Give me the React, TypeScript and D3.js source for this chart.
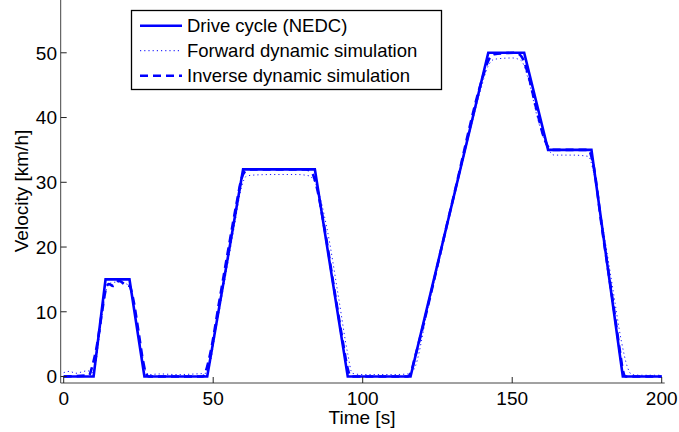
import React from 'react';
import * as d3 from 'd3';

// NEDC urban part (ECE-15), time shifted so the first sample is t = 0
const cycleTime = [0, 10, 14, 22, 27, 48, 60, 84, 95, 116, 142, 154, 162, 176.5, 187, 200];
const cycleSpeed = [0, 0, 15, 15, 0, 0, 32, 32, 0, 0, 50, 50, 35, 35, 0, 0];

// forward dynamic simulation (dotted)
const fwdTime = [0, 2, 4, 6, 8, 9.5, 10.5, 12, 13.5, 14.5, 15.5, 18, 21, 22.5, 24, 26, 27.5, 28.5, 32, 38, 44, 47.5,
  48.5, 51, 54, 57, 59.5, 61, 63, 70, 78, 82, 84.5, 88, 92, 95, 96.5, 100, 110, 115,
  117, 122, 128, 134, 139, 142, 144, 150, 153, 155, 159, 162, 164, 170, 175.5, 177, 180, 183.5, 186.5, 188.5, 190, 193, 200];
const fwdSpeed = [0.6, 0.8, 0.5, 0.7, 0.9, 0.6, 1.5, 6.5, 11.5, 13.8, 14.4, 14.6, 14.3, 13.5, 9.5, 4, 0.8, 0.3, 0.4, 0.3, 0.4, 0.5,
  1.2, 7.5, 15.2, 23, 29.3, 30.9, 31.1, 31.2, 31.2, 31.0, 29.5, 23, 12, 3.5, 0.5, 0.3, 0.3, 0.4,
  1, 11, 22.6, 34.3, 43.5, 48, 49, 49.2, 48.8, 46.5, 39, 35.2, 34.2, 34.2, 34, 32, 24, 14, 5.5, 1.5, 0.3, 0.2, 0.2];

// inverse dynamic simulation (dashed)
const invTime = [0, 8.5, 9.5, 11, 13, 14, 15, 16.5, 18.5, 20.5, 22, 23, 25, 26.5, 27.5, 28.5, 46.5, 47.5, 49, 52, 55, 58, 59.5,
  61, 63, 81, 83, 84.5, 87, 91, 93.5, 95, 96, 115, 116, 117.5, 130, 140, 142, 144, 151, 153, 155, 158, 161, 163,
  175.5, 177, 180, 184, 186, 187, 188, 200];
const invSpeed = [0, 0.2, 1.5, 4.5, 10.5, 13.3, 14.3, 14.0, 14.8, 14.2, 14.0, 12.5, 7, 2.5, 0.5, 0, 0, 0.8, 3.5, 11.5, 19.5, 27.2, 30.6,
  31.8, 32, 32, 31.5, 29.5, 23.5, 12, 5, 1.2, 0, 0, 0.5, 3, 27, 46, 48.8, 49.8, 50, 49.5, 47.2, 41.5, 36.4, 35,
  35, 33, 23, 10.5, 4, 1, 0, 0];

const xTicks = [0, 50, 100, 150, 200];
const yTicks = [0, 10, 20, 30, 40, 50];
const legendLabels = ['Drive cycle (NEDC)', 'Forward dynamic simulation', 'Inverse dynamic simulation'];

const W = 679;
const H = 432;
const FONT = 'Liberation Sans, Arial, Helvetica, sans-serif';
const BLUE = '#0000ff';

const App: React.FC = () => {
  const x = d3.scaleLinear().domain([-1, 201]).range([60.7, 664.7]);
  const y = d3.scaleLinear().domain([-1, 58]).range([383, 1]);

  const straight = d3.line<number>().x((_, i) => x(cycleTime[i])).y(d => y(d));
  const smoothFwd = d3.line<number>().x((_, i) => x(fwdTime[i])).y(d => y(d)).curve(d3.curveMonotoneX);
  const smoothInv = d3.line<number>().x((_, i) => x(invTime[i])).y(d => y(d)).curve(d3.curveMonotoneX);

  const [x0, x1] = x.range();
  const [y0] = y.range();
  const tickLen = 6;

  // legend box + line styles
  const lg = { x: 131.5, y: 10.5, w: 310, h: 79 };
  const lgStyles = [
    { dash: undefined, width: 2.5 },
    { dash: '1.2,3', width: 1 },
    { dash: '8,5', width: 2.5 },
  ];

  return (
    <svg width={W} height={H} style={{ position: 'absolute', left: 0, top: 0, background: '#fff' }} fontFamily={FONT}>
      <rect width={W} height={H} fill="#fff" />

      {/* data lines */}
      <path d={straight(cycleSpeed) || ''} fill="none" stroke={BLUE} strokeWidth={2.6} strokeLinejoin="miter" />
      <path d={smoothFwd(fwdSpeed) || ''} fill="none" stroke={BLUE} strokeWidth={1} strokeDasharray="1.2,3" opacity={0.9} />
      <path d={smoothInv(invSpeed) || ''} fill="none" stroke={BLUE} strokeWidth={2.6} strokeDasharray="8,5" />

      {/* axes */}
      <line x1={x0} x2={x0} y1={y0} y2={0} stroke="#444" strokeWidth={1} />
      <line x1={x0} x2={x1} y1={y0} y2={y0} stroke="#444" strokeWidth={1} />
      {yTicks.map(t => (
        <g key={'y' + t}>
          <line x1={x0} x2={x0 + tickLen} y1={y(t)} y2={y(t)} stroke="#222" strokeWidth={1} />
          <text x={57} y={y(t) + 6.8} textAnchor="end" fontSize={19} fill="#000">{t}</text>
        </g>
      ))}
      {xTicks.map(t => (
        <g key={'x' + t}>
          <line x1={x(t)} x2={x(t)} y1={y0} y2={y0 - tickLen} stroke="#222" strokeWidth={1} />
          <text x={x(t)} y={405} textAnchor="middle" fontSize={19} fill="#000">{t}</text>
        </g>
      ))}
      <text x={362} y={424} textAnchor="middle" fontSize={19} fill="#000">Time [s]</text>
      <text transform={`translate(28,191) rotate(-90)`} textAnchor="middle" fontSize={19} fill="#000">Velocity [km/h]</text>

      {/* legend */}
      <rect x={lg.x} y={lg.y} width={lg.w} height={lg.h} fill="#fff" stroke="#000" strokeWidth={1.3} />
      {legendLabels.map((label, i) => {
        const ly = 25.7 + i * 25;
        const s = lgStyles[i];
        return (
          <g key={label}>
            <line x1={140} x2={182} y1={ly} y2={ly} stroke={BLUE} strokeWidth={s.width} strokeDasharray={s.dash} />
            <text x={187} y={ly + 6.5} fontSize={18.5} fill="#000">{label}</text>
          </g>
        );
      })}
    </svg>
  );
};

export default App;
